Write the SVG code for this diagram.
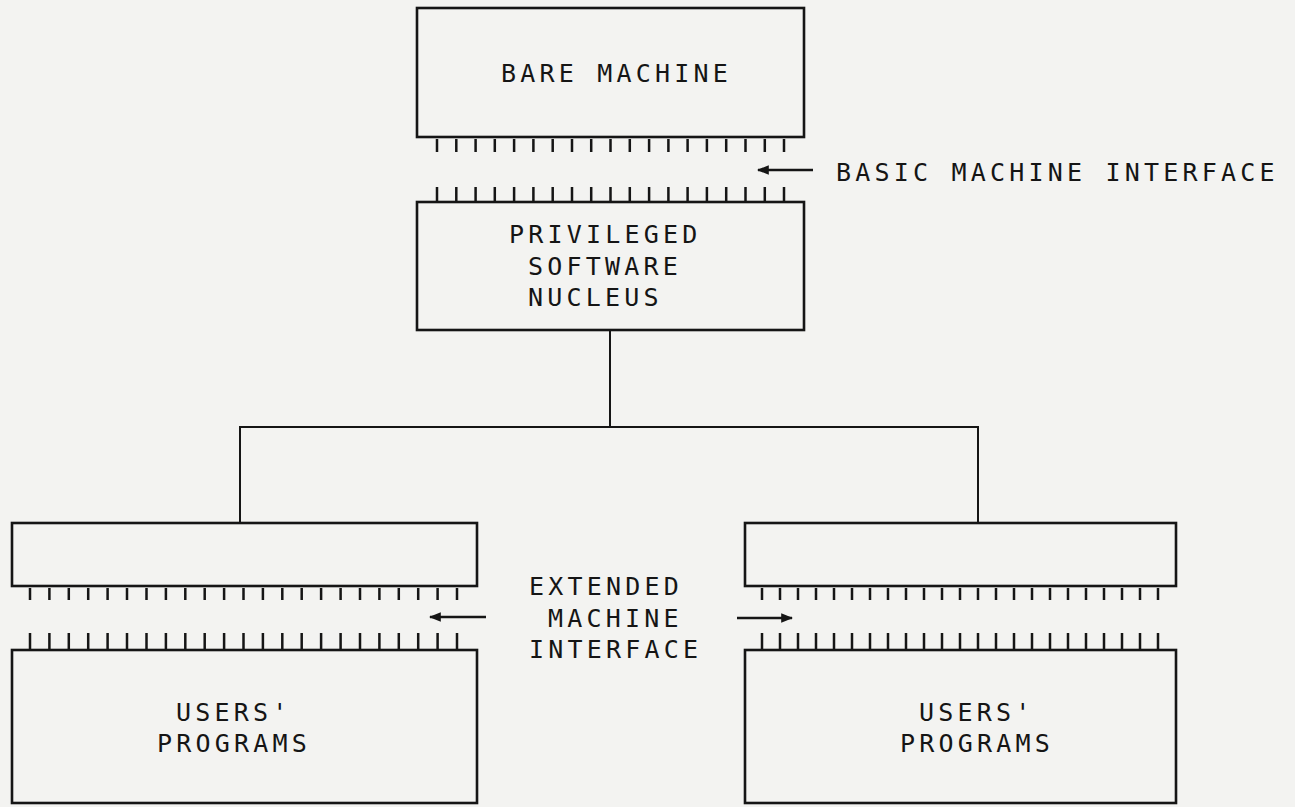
<svg xmlns="http://www.w3.org/2000/svg" width="1295" height="807" viewBox="0 0 1295 807">
  <defs>
    <style>
      .box { fill: none; stroke: #151515; stroke-width: 2.6; }
      .tick { fill: none; stroke: #151515; stroke-width: 2.5; }
      .wire { fill: none; stroke: #151515; stroke-width: 2; }
      .arrow { fill: none; stroke: #151515; stroke-width: 2.4; marker-end: url(#head); }
      .label { font-family: "DejaVu Sans Mono", "Liberation Mono", monospace; font-size: 25px; letter-spacing: 4.2px; fill: #151515; }
    </style>
    <marker id="head" viewBox="0 0 10 8" refX="9" refY="4" markerWidth="5" markerHeight="4.4" orient="auto" markerUnits="strokeWidth">
      <path d="M0 0 L10 4 L0 8 Z" fill="#151515"/>
    </marker>
  </defs>

  <rect width="1295" height="807" fill="#f3f3f1"/>

  <!-- hardware layer -->
  <g id="bare-machine">
    <rect class="box" x="417" y="8" width="387" height="129"/>
    <text class="label" x="501" y="82">BARE MACHINE</text>
  </g>

  <!-- basic machine interface: two rows of pins -->
  <g id="basic-machine-interface">
    <path class="tick" d="M437 139V152M456.3 139V152M475.6 139V152M494.8 139V152M514.1 139V152M533.4 139V152M552.7 139V152M572 139V152M591.2 139V152M610.5 139V152M629.8 139V152M649.1 139V152M668.4 139V152M687.6 139V152M706.9 139V152M726.2 139V152M745.5 139V152M764.8 139V152M784 139V152"/>
    <path class="tick" d="M437 187V202M456.3 187V202M475.6 187V202M494.8 187V202M514.1 187V202M533.4 187V202M552.7 187V202M572 187V202M591.2 187V202M610.5 187V202M629.8 187V202M649.1 187V202M668.4 187V202M687.6 187V202M706.9 187V202M726.2 187V202M745.5 187V202M764.8 187V202M784 187V202"/>
    <text class="label" x="836" y="181">BASIC MACHINE INTERFACE</text>
  </g>

  <g id="privileged-nucleus">
    <rect class="box" x="417" y="202" width="387" height="128"/>
    <text class="label" x="509" y="243">PRIVILEGED</text>
    <text class="label" x="528" y="275">SOFTWARE</text>
    <text class="label" x="528" y="306">NUCLEUS</text>
  </g>

  <!-- extended machine layers -->
  <g id="extension-left">
    <rect class="box" x="12" y="523" width="465" height="63"/>
  </g>
  <g id="extension-right">
    <rect class="box" x="745" y="523" width="431" height="63"/>
  </g>

  <g id="extended-machine-interface">
    <path class="tick" d="M30 588V600M49.4 588V600M68.8 588V600M88.2 588V600M107.6 588V600M127 588V600M146.5 588V600M165.9 588V600M185.3 588V600M204.7 588V600M224.1 588V600M243.5 588V600M262.9 588V600M282.3 588V600M301.7 588V600M321.1 588V600M340.6 588V600M360 588V600M379.4 588V600M398.8 588V600M418.2 588V600M437.6 588V600M457 588V600"/>
    <path class="tick" d="M30 633V650M49.4 633V650M68.8 633V650M88.2 633V650M107.6 633V650M127 633V650M146.5 633V650M165.9 633V650M185.3 633V650M204.7 633V650M224.1 633V650M243.5 633V650M262.9 633V650M282.3 633V650M301.7 633V650M321.1 633V650M340.6 633V650M360 633V650M379.4 633V650M398.8 633V650M418.2 633V650M437.6 633V650M457 633V650"/>
    <path class="tick" d="M762 588V600M780 588V600M798 588V600M816 588V600M834 588V600M852 588V600M870 588V600M888 588V600M906 588V600M924 588V600M942 588V600M960 588V600M978 588V600M996 588V600M1014 588V600M1032 588V600M1050 588V600M1068 588V600M1086 588V600M1104 588V600M1122 588V600M1140 588V600M1158 588V600"/>
    <path class="tick" d="M762 633V650M780 633V650M798 633V650M816 633V650M834 633V650M852 633V650M870 633V650M888 633V650M906 633V650M924 633V650M942 633V650M960 633V650M978 633V650M996 633V650M1014 633V650M1032 633V650M1050 633V650M1068 633V650M1086 633V650M1104 633V650M1122 633V650M1140 633V650M1158 633V650"/>
    <text class="label" x="529" y="595">EXTENDED</text>
    <text class="label" x="548" y="627">MACHINE</text>
    <text class="label" x="529" y="658">INTERFACE</text>
  </g>

  <g id="users-programs-left">
    <rect class="box" x="12" y="650" width="465" height="153"/>
    <text class="label" x="176" y="721">USERS'</text>
    <text class="label" x="157" y="752">PROGRAMS</text>
  </g>
  <g id="users-programs-right">
    <rect class="box" x="745" y="650" width="431" height="153"/>
    <text class="label" x="919" y="721">USERS'</text>
    <text class="label" x="900" y="752">PROGRAMS</text>
  </g>

  <!-- connectors: nucleus tree and interface pointers -->
  <g id="connectors">
    <path class="wire" d="M610 330V427M240 523V427H978V523"/>
    <path class="arrow" d="M813 170H758"/>
    <path class="arrow" d="M486 617H430"/>
    <path class="arrow" d="M737 618H792"/>
  </g>
</svg>
